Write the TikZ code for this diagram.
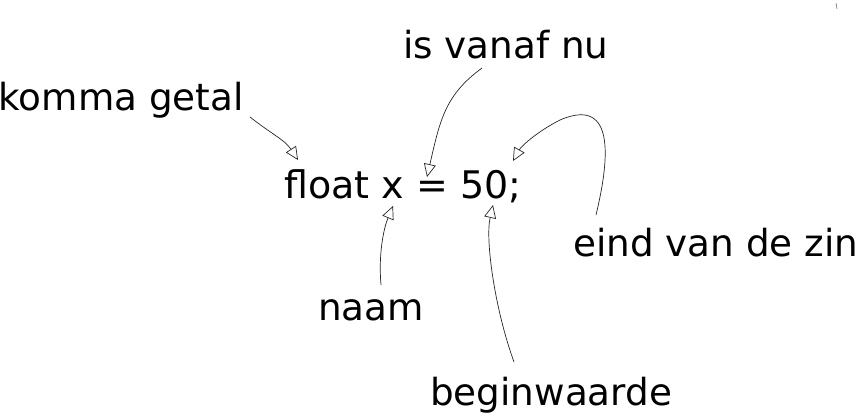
\documentclass[tikz,border=0pt]{standalone}
\usepackage{fontspec}
\setmainfont{DejaVu Sans}
\usetikzlibrary{arrows.meta}
\tikzset{
  lbl/.style={inner sep=0pt, anchor=base west, font=\fontsize{37.3}{45}\selectfont},
  codelbl/.style={lbl, font=\fontsize{38}{46}\selectfont},
  pijl/.style={draw=black!85, line width=0.7pt, -{Triangle[open, length=13pt, width=12pt]}},
}
\begin{document}
\begin{tikzpicture}[x=1pt,y=-1pt]
\useasboundingbox (0,0) rectangle (858,415);
\node[lbl] (komma) at (-1.5,110) {komma getal};
\node[lbl] (vanaf) at (403,58) {is vanaf nu};
\node[codelbl] (code) at (284,198) {float x = 50;};
\node[lbl] (eind) at (573,256) {eind van de zin};
\node[lbl] (naam) at (318,320) {naam};
\node[lbl] (begin) at (430,405) {beginwaarde};
\coordinate (k1) at (250,117);
\coordinate (k2) at (298,160);
\coordinate (v1) at (482,68);
\coordinate (v2) at (427,177);
\coordinate (e1) at (596,215);
\coordinate (e2) at (513,161);
\coordinate (n1) at (381,285);
\coordinate (n2) at (393,206);
\coordinate (b1) at (514,362);
\coordinate (b2) at (493,205);
\draw[pijl] (k1) .. controls (270,133) and (285,140) .. (k2);
\draw[pijl] (v1) .. controls (445,95) and (440,120) .. (v2);
\draw[pijl] (e1) .. controls (608,165) and (618,95) .. (560,120) .. controls (540,130) and (522,145) .. (e2);
\draw[pijl] (n1) .. controls (378,250) and (385,225) .. (n2);
\draw[pijl] (b1) .. controls (495,310) and (485,240) .. (b2);
\draw[black!60, line width=0.6pt] (836,3) -- (837,9);
\end{tikzpicture}
\end{document}
